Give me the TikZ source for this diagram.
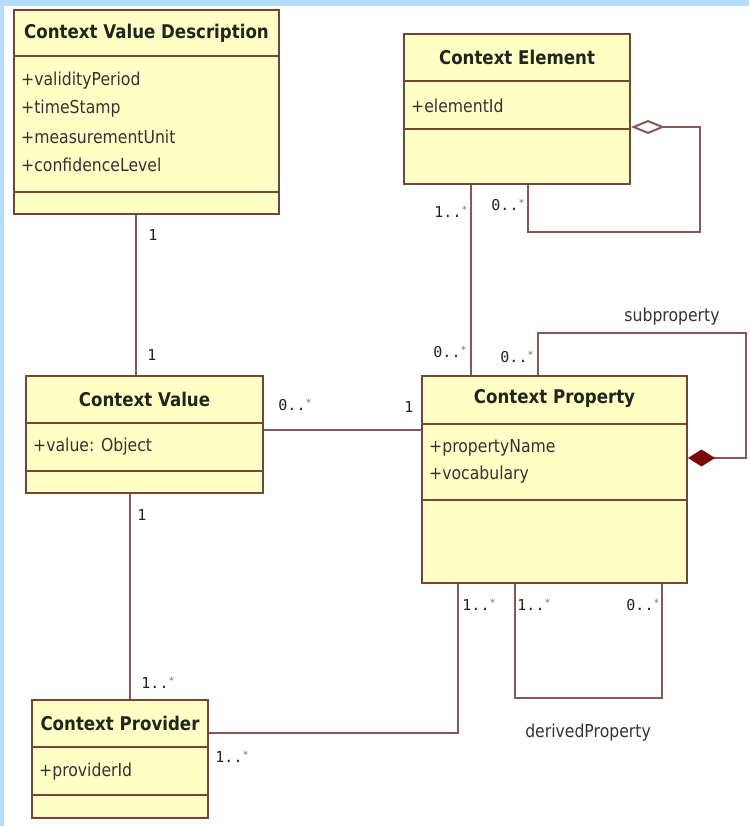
\documentclass[tikz,border=0pt]{standalone}
\usepackage{fontspec}
\setmainfont{DejaVu Sans}[FakeStretch=0.88]
\newfontfamily\multfont{DejaVu Sans Mono}
\usetikzlibrary{arrows.meta}

\definecolor{boxfill}{HTML}{FFFFC6}
\definecolor{boxline}{HTML}{754535}
\definecolor{assoc}{HTML}{8A5656}
\definecolor{txt}{HTML}{1F261C}
\definecolor{attrtxt}{HTML}{333333}
\definecolor{frameblue}{HTML}{B3DDFA}
\definecolor{compfill}{HTML}{7A0A0A}
\definecolor{startxt}{HTML}{777777}

% "many" marker: small raised asterisk
\newcommand{\many}{\raisebox{4pt}{\fontsize{10}{10}\selectfont\color{startxt}*}}

\begin{document}
\begin{tikzpicture}[x=1pt,y=-1pt,
  classbox/.style={draw=boxline, fill=boxfill, line width=2pt, inner sep=0pt, anchor=north west},
  divider/.style={draw=boxline, line width=2pt},
  ctitle/.style={font=\fontsize{18.9}{22}\selectfont\bfseries, text=txt, inner sep=0pt},
  attr/.style={font=\fontsize{17.8}{21}\selectfont, text=attrtxt, anchor=west, inner sep=0pt, xshift=8pt},
  link/.style={draw=assoc, line width=2pt},
  mult/.style={font=\multfont\fontsize{15}{17}\selectfont, text=txt, inner sep=0pt},
  role/.style={font=\fontsize{17.8}{21}\selectfont, text=attrtxt, inner sep=0pt},
]
% page and frame
\useasboundingbox (0,0) rectangle (749,826);
\fill[frameblue] (0,0) rectangle (749,826);
\fill[white] (4,6) rectangle (749,826);

% ---------- classes ----------
% Context Value Description
\node[classbox, minimum width=265pt, minimum height=204pt] (cvd) at (13,9) {};
\draw[divider] (cvd.west |- 0,56) -- (cvd.east |- 0,56);
\draw[divider] (cvd.west |- 0,192) -- (cvd.east |- 0,192);
\node[ctitle] (cvd-t) at (cvd.north |- 0,33) {Context Value Description};
\node[attr] (cvd-a1) at (cvd.west |- 0,81) {+validityPeriod};
\node[attr] (cvd-a2) at (cvd.west |- 0,109) {+timeStamp};
\node[attr] (cvd-a3) at (cvd.west |- 0,137) {+measurementUnit};
\node[attr] (cvd-a4) at (cvd.west |- 0,165) {+confidenceLevel};

% Context Element
\node[classbox, minimum width=226pt, minimum height=150pt] (ce) at (403,33) {};
\draw[divider] (ce.west |- 0,81) -- (ce.east |- 0,81);
\draw[divider] (ce.west |- 0,129) -- (ce.east |- 0,129);
\node[ctitle] (ce-t) at (ce.north |- 0,57) {Context Element};
\node[attr] (ce-a1) at (ce.west |- 0,106) {+elementId};

% Context Value
\node[classbox, minimum width=237pt, minimum height=117pt] (cv) at (25,375) {};
\draw[divider] (cv.west |- 0,423) -- (cv.east |- 0,423);
\draw[divider] (cv.west |- 0,471) -- (cv.east |- 0,471);
\node[ctitle] (cv-t) at (cv.north |- 0,399) {Context Value};
\node[attr] (cv-a1) at (cv.west |- 0,447) {+value: Object};

% Context Property
\node[classbox, minimum width=265pt, minimum height=207pt] (cp) at (421,375) {};
\draw[divider] (cp.west |- 0,424) -- (cp.east |- 0,424);
\draw[divider] (cp.west |- 0,500) -- (cp.east |- 0,500);
\node[ctitle] (cp-t) at (cp.north |- 0,399) {Context Property};
\node[attr] (cp-a1) at (cp.west |- 0,448) {+propertyName};
\node[attr] (cp-a2) at (cp.west |- 0,475) {+vocabulary};

% Context Provider
\node[classbox, minimum width=176pt, minimum height=118pt] (prov) at (31,699) {};
\draw[divider] (prov.west |- 0,747) -- (prov.east |- 0,747);
\draw[divider] (prov.west |- 0,795) -- (prov.east |- 0,795);
\node[ctitle] (prov-t) at (prov.north |- 0,723) {Context Provider};
\node[attr] (prov-a1) at (prov.west |- 0,772) {+providerId};

% ---------- associations ----------
\coordinate (xa) at (136,0);
\coordinate (xb) at (130,0);
\coordinate (xc) at (458,0);
\coordinate (xd) at (471,0);
\coordinate (xe) at (528,0);
\coordinate (xf) at (538,0);
\coordinate (xg) at (515,0);
\coordinate (ya) at (0,430);
\coordinate (yb) at (0,733);
\coordinate (yc) at (0,127);
\coordinate (yd) at (0,458);
\coordinate (ceLoop) at (700,232);
\coordinate (spLoop) at (746,333);
\coordinate (dpLoop) at (662,698);

\draw[link] (cvd.south -| xa) -- (cv.north -| xa);
\draw[link] (cv.east |- ya) -- (cp.west |- ya);
\draw[link] (cv.south -| xb) -- (prov.north -| xb);
\draw[link] (prov.east |- yb) -| (cp.south -| xc);
\draw[link] (ce.south -| xd) -- (cp.north -| xd);
% aggregation of context elements
\draw[link, {Diamond[open, length=34pt, width=14pt, fill=white]}-]
  (ce.east |- yc) -| (ceLoop) -| (ce.south -| xe);
% subproperty composition
\draw[link, {Diamond[length=27pt, width=17pt, fill=compfill, color=compfill]}-]
  (cp.east |- yd) -| (spLoop) -| (cp.north -| xf);
% derived properties
\draw[link] (cp.south -| xg) |- (dpLoop) -- (cp.south -| dpLoop);

% ---------- multiplicities and roles ----------
\node[mult] (m1) at (153,235) {1};
\node[mult] (m2) at (152,355) {1};
\node[mult] (m3) at (295,405) {0..\many};
\node[mult] (m4) at (409,407) {1};
\node[mult] (m5) at (142,515) {1};
\node[mult] (m6) at (158,683) {1..\many};
\node[mult] (m7) at (232,757) {1..\many};
\node[mult] (m8) at (479,605) {1..\many};
\node[mult] (m9) at (534,605) {1..\many};
\node[mult] (m10) at (643,605) {0..\many};
\node[mult] (m11) at (450,352) {0..\many};
\node[mult] (m12) at (517,357) {0..\many};
\node[mult] (m13) at (451,212) {1..\many};
\node[mult] (m14) at (508,205) {0..\many};
\node[role] (r1) at (672,317) {subproperty};
\node[role] (r2) at (588,733) {derivedProperty};
\end{tikzpicture}
\end{document}
